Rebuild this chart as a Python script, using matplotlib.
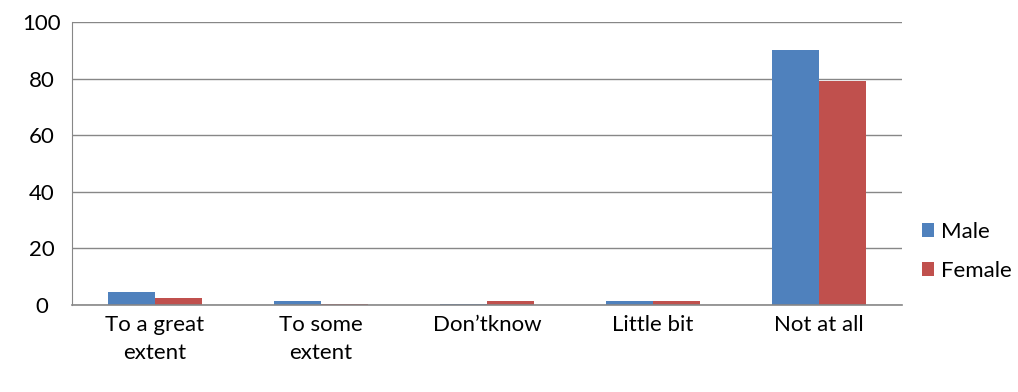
import numpy as np
import matplotlib
matplotlib.use("Agg")
import matplotlib.pyplot as plt

categories = ["To a great\nextent", "To some\nextent", "Don\u2019tknow", "Little bit", "Not at all"]
male = [4.5, 1.5, 0.5, 1.5, 90]
female = [2.6, 0.5, 1.5, 1.5, 79]

BLUE = "#4F81BD"
RED = "#C0504D"
GRID = "#878787"

plt.rcParams["font.family"] = ["Lato", "DejaVu Sans"]
FS = 16

fig = plt.figure(figsize=(10.18, 3.92), dpi=100)
ax = fig.add_axes([72 / 1018, 1 - 305 / 392, 830 / 1018, 283 / 392])

x = np.arange(len(categories))
w = 1 / 3.5
ax.bar(x - w / 2, male, width=w, color=BLUE, label="Male")
ax.bar(x + w / 2, female, width=w, color=RED, label="Female")

ax.set_xlim(-0.5, len(categories) - 0.5)
ax.set_ylim(0, 100)
ax.set_yticks(range(0, 101, 20))
ax.set_xticks(x)
ax.set_xticklabels(categories, fontsize=FS, linespacing=1.5)
ax.tick_params(axis="y", labelsize=FS, length=0, pad=22)
ax.tick_params(axis="x", length=0, pad=7)
for lbl in ax.get_yticklabels():
    lbl.set_horizontalalignment("center")

ax.yaxis.grid(True, color=GRID, linewidth=1)
ax.set_axisbelow(True)
for side in ["top", "right"]:
    ax.spines[side].set_visible(False)
ax.spines["left"].set_color(GRID)
ax.spines["bottom"].set_color(GRID)
ax.spines["bottom"].set_linewidth(1.2)

ax.legend(loc="center left", bbox_to_anchor=(1.0, 0.19), frameon=False,
          fontsize=FS, handlelength=0.55, handleheight=0.55, handletextpad=0.3,
          labelspacing=0.85)

fig.savefig("out.png", dpi=100)
